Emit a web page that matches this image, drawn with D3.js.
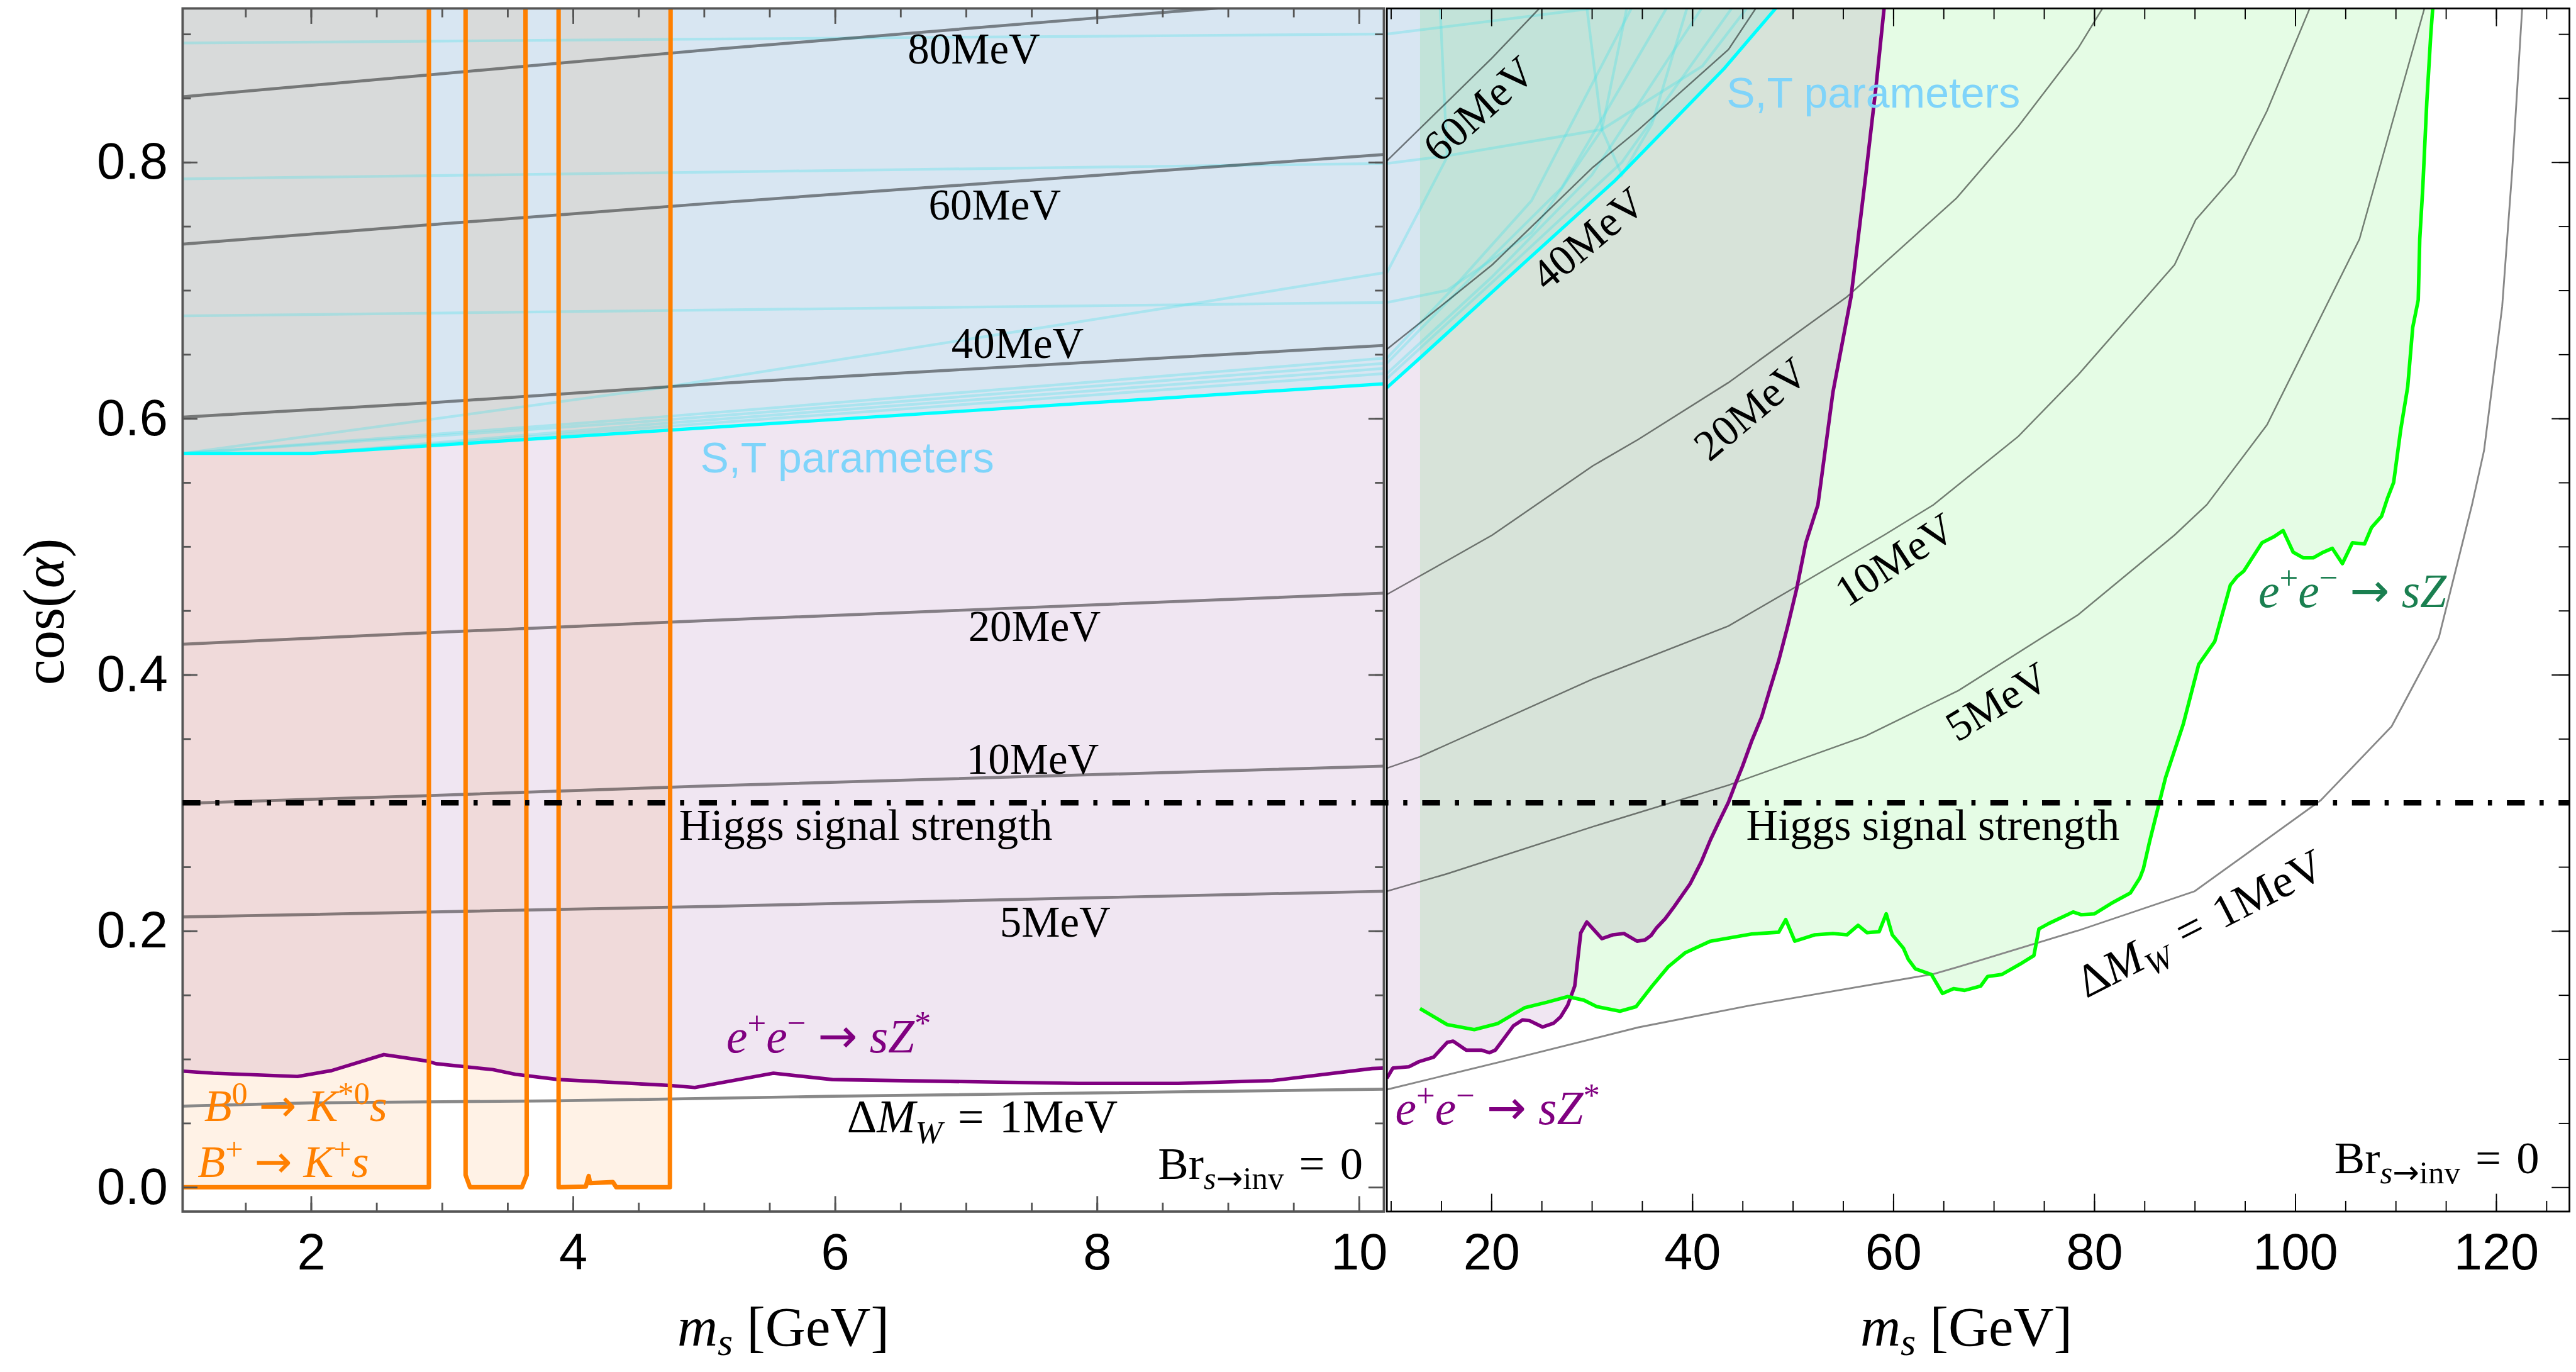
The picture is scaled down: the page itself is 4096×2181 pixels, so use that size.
<!DOCTYPE html>
<meta charset="utf-8">
<html>
<head>
<style>
  body { margin: 0; background: #fff; }
  svg { display: block; }
  .fill { mix-blend-mode: multiply; }
</style>
</head>
<body>
<div id="chart"></div>
<script src="https://cdn.jsdelivr.net/npm/d3@7/dist/d3.min.js"></script>
<script>
// ---------- data (m_s in GeV, cos(alpha)) ----------
const lowMassTicks = [2, 4, 6, 8, 10];
const highMassTicks = [20, 40, 60, 80, 100, 120];
const cosTicks = [0, 0.2, 0.4, 0.6, 0.8];
const higgsLimit = 0.3;

// left panel: Delta M_W contours
const dmw80Low = [[1.02, 0.851], [2.885, 0.868], [5.06, 0.888], [9.0, 0.921]];
const dmw60Low = [[1.02, 0.736], [2.885, 0.751], [5.06, 0.768], [10.19, 0.806]];
const dmw40Low = [[1.02, 0.601], [2.885, 0.612], [5.06, 0.627], [10.19, 0.657]];
const dmw20Low = [[1.02, 0.4238], [2.885, 0.4327], [5.06, 0.4424], [10.19, 0.4637]];
const dmw10Low = [[1.02, 0.2996], [2.885, 0.3056], [5.06, 0.3133], [10.19, 0.3286]];
const dmw5Low = [[1.02, 0.2109], [5.06, 0.2192], [10.19, 0.231]];
const dmw1Low = [[1.02, 0.0633], [2.0, 0.0658], [3.88, 0.0674], [5.98, 0.071], [10.19, 0.0765]];

// right panel: Delta M_W contours
const dmw60High = [[9.6, 0.801], [15.6, 0.847], [20.1, 0.8816], [24.9, 0.921]];
const dmw40High = [[9.6, 0.654], [15.6, 0.6915], [20.1, 0.72], [30.1, 0.796], [34.6, 0.825], [43.6, 0.888], [46.4, 0.921]];
const dmw20High = [[9.6, 0.4626], [15.6, 0.489], [20.1, 0.509], [30.1, 0.563], [34.6, 0.5835], [43.6, 0.628],
  [55.4, 0.695], [66.3, 0.772], [72.45, 0.828], [78.4, 0.889], [80.9, 0.921]];
const dmw10High = [[9.6, 0.327], [12.9, 0.336], [30.1, 0.3966], [43.6, 0.438], [50.4, 0.469], [59.1, 0.509],
  [64.0, 0.5326], [72.45, 0.586], [78.4, 0.634], [88.0, 0.72], [90.1, 0.755], [94.0, 0.79], [97.2, 0.84], [101.5, 0.921]];
const dmw5High = [[9.6, 0.231], [15.6, 0.2446], [30.1, 0.2814], [43.6, 0.3138], [57.2, 0.352], [66.5, 0.3877],
  [78.4, 0.4468], [88.0, 0.509], [91.2, 0.5326], [97.2, 0.595], [106.4, 0.74], [112.9, 0.921]];
const dmw1High = [[9.6, 0.0762], [21.0, 0.098], [34.6, 0.1247], [45.5, 0.1415], [64.0, 0.1664], [66.5, 0.172],
  [78.6, 0.2008], [90.0, 0.231], [102.55, 0.302], [109.6, 0.3597], [114.3, 0.429], [117.6, 0.5326],
  [118.8, 0.575], [120.6, 0.687], [121.6, 0.7935], [122.6, 0.921]];

// e+e- -> sZ*
const eeSZstarLow = [[1.02, 0.0906], [1.255, 0.089], [1.897, 0.0864], [2.157, 0.091], [2.556, 0.1035], [2.885, 0.0985],
  [2.954, 0.0964], [3.387, 0.0918], [3.56, 0.0881], [3.89, 0.084], [4.34, 0.0816], [4.74, 0.0794], [4.93, 0.0778],
  [5.53, 0.089], [5.98, 0.084], [7.86, 0.081], [8.62, 0.081], [9.34, 0.0832], [10.1, 0.0926], [10.19, 0.093]];
const eeSZstarHigh = [[9.6, 0.085], [10.2, 0.093], [11.8, 0.094], [12.8, 0.098], [14.26, 0.1015], [15.6, 0.113],
  [16.2, 0.114], [17.5, 0.107], [19.0, 0.107], [19.8, 0.105], [20.4, 0.107], [22.2, 0.126], [23.1, 0.1305],
  [23.8, 0.13], [25.1, 0.125], [26.2, 0.128], [26.9, 0.133], [27.6, 0.142], [28.3, 0.157], [28.9, 0.1985],
  [29.5, 0.207], [31.0, 0.194], [32.1, 0.197], [33.2, 0.198], [34.5, 0.192], [35.3, 0.193], [35.9, 0.1965],
  [36.4, 0.202], [37.3, 0.2095], [38.2, 0.219], [39.8, 0.237], [40.9, 0.254], [41.8, 0.271], [42.7, 0.286],
  [43.6, 0.3005], [44.3, 0.315], [45.0, 0.3286], [45.9, 0.348], [46.9, 0.367], [47.7, 0.388], [48.6, 0.411],
  [49.5, 0.438], [50.4, 0.4675], [51.3, 0.503], [52.5, 0.5325], [54.0, 0.6206], [55.8, 0.695], [57.2, 0.7856],
  [58.3, 0.86], [59.1, 0.921]];

// e+e- -> sZ
const eeSZ = [[12.9, 0.1394], [15.6, 0.1269], [18.3, 0.123], [20.6, 0.1276], [23.3, 0.14], [25.55, 0.1444],
  [27.6, 0.1488], [29.2, 0.146], [30.5, 0.1409], [32.8, 0.1373], [34.4, 0.1409], [36.0, 0.157], [37.6, 0.172],
  [39.3, 0.183], [41.8, 0.192], [45.9, 0.1976], [48.6, 0.199], [49.3, 0.2089], [50.2, 0.192], [52.2, 0.197],
  [54.0, 0.198], [55.4, 0.197], [56.5, 0.2044], [57.4, 0.1986], [58.6, 0.1995], [59.3, 0.2134], [59.9, 0.197],
  [61.0, 0.1867], [61.5, 0.1778], [62.2, 0.1704], [63.8, 0.166], [64.9, 0.1512], [66.0, 0.155], [67.1, 0.1536],
  [68.7, 0.157], [69.4, 0.1645], [70.8, 0.166], [72.6, 0.174], [74.0, 0.1808], [74.5, 0.2016], [75.5, 0.2059],
  [77.9, 0.2148], [78.7, 0.2127], [80.0, 0.2133], [81.7, 0.2215], [83.6, 0.2296], [84.55, 0.2414], [84.9, 0.2487],
  [85.5, 0.2694], [87.1, 0.3197], [88.85, 0.361], [90.4, 0.408], [92.0, 0.426], [93.55, 0.47], [94.2, 0.4764],
  [94.9, 0.481], [96.7, 0.503], [97.85, 0.5075], [98.8, 0.5125], [99.8, 0.4956], [100.8, 0.4912], [101.8, 0.4912],
  [102.8, 0.4956], [103.7, 0.4986], [104.7, 0.4867], [105.7, 0.503], [106.9, 0.502], [107.6, 0.5148],
  [108.6, 0.5237], [109.2, 0.538], [109.8, 0.55], [110.5, 0.591], [111.2, 0.6246], [111.7, 0.671],
  [112.25, 0.6925], [112.4, 0.74], [112.7, 0.78], [113.1, 0.8467], [113.5, 0.9], [113.7, 0.921]];

// S,T parameters boundary (thick) and the faint sub-contours
const stLow = [[1.02, 0.5727], [2.0, 0.5727], [5.06, 0.593], [10.19, 0.627]];
const stHigh = [[9.6, 0.624], [12.9, 0.6472], [23.3, 0.7217], [32.3, 0.7856], [43.2, 0.8733], [48.4, 0.921]];
const stFaintLow = [
  [[1.02, 0.893], [10.19, 0.9]],
  [[1.02, 0.787], [10.19, 0.799]],
  [[1.02, 0.68], [10.19, 0.6905]],
  [[1.02, 0.5727], [4.61, 0.623], [8.58, 0.687], [10.19, 0.7137]],
  [[1.02, 0.5727], [4.61, 0.6007], [10.19, 0.647]],
  [[1.02, 0.5727], [4.61, 0.598], [10.19, 0.643]],
  [[2.0, 0.5727], [4.61, 0.5955], [10.19, 0.639]],
  [[2.0, 0.5727], [4.61, 0.593], [10.19, 0.635]]
];
const stFaintHigh = [
  [[9.6, 0.9], [31.0, 0.921]],
  [[9.6, 0.799], [15.6, 0.805], [31.0, 0.8255], [41.0, 0.875], [45.5, 0.921]],
  [[9.6, 0.6905], [15.6, 0.7], [24.0, 0.745], [31.0, 0.8255], [33.5, 0.921]],
  [[9.6, 0.7137], [15.6, 0.804], [14.9, 0.921]],
  [[29.5, 0.921], [31.0, 0.8255], [33.0, 0.79], [36.0, 0.83], [39.5, 0.921]],
  [[9.6, 0.631], [22.0, 0.72], [33.0, 0.8], [44.0, 0.921]],
  [[9.6, 0.635], [20.0, 0.71], [30.0, 0.79], [41.0, 0.921]],
  [[9.6, 0.643], [18.0, 0.71], [27.0, 0.78], [37.5, 0.921]],
  [[9.6, 0.647], [16.0, 0.7], [24.0, 0.77], [34.0, 0.921]]
];

// B -> K s exclusion windows (orange)
const bMeson1 = [[0.9, 0.0], [2.9, 0.0], [2.9, 0.95]];
const bMeson2 = [[3.18, 0.95], [3.18, 0.0095], [3.214, 0.0], [3.61, 0.0], [3.647, 0.0095], [3.637, 0.95]];
const bMeson3 = [[3.89, 0.95], [3.89, 0.0], [4.098, 0.0005], [4.12, 0.0088], [4.13, 0.0032], [4.305, 0.004],
  [4.33, 0.0], [4.74, 0.0], [4.745, 0.95]];

// contour labels [text, m, cos(, angle)]
const lowLabels = [["80MeV", 7.06, 0.877], ["60MeV", 7.22, 0.7551], ["40MeV", 7.394, 0.6472],
  ["20MeV", 7.523, 0.4261], ["10MeV", 7.509, 0.3227], ["5MeV", 7.681, 0.1956]];
const highLabels = [["60MeV", 18.78, 0.8414, -42], ["40MeV", 29.64, 0.7403, -40], ["20MeV", 45.83, 0.6073, -40],
  ["10MeV", 60.17, 0.4897, -33], ["5MeV", 70.35, 0.3788, -31]];

// ---------- layout ----------
var W = 4339, H = 2310;
var SERIF = "'Liberation Serif', 'Times New Roman', serif";
var SANS = "'Liberation Sans', Arial, sans-serif";
var yTop = 14, yBot = 2040;
var leftBox = { x0: 307.6, x1: 2331 }, rightBox = { x0: 2336, x1: 4328 };

var y = d3.scaleLinear().domain([-0.019, 0.92]).range([yBot, yTop]);
var xL = d3.scaleLinear().domain([1.02, 10.19]).range([leftBox.x0, leftBox.x1]);
var xR = d3.scaleLinear().domain([9.6, 127.3]).range([rightBox.x0, rightBox.x1]);

var svg = d3.select("#chart").append("svg")
  .attr("width", 4096).attr("height", 2181)
  .attr("viewBox", "0 0 " + W + " " + H);
svg.append("rect").attr("width", W).attr("height", H).attr("fill", "#fff");

var defs = svg.append("defs");
[["clipL", leftBox], ["clipR", rightBox]].forEach(function (c) {
  defs.append("clipPath").attr("id", c[0]).append("rect")
    .attr("x", c[1].x0).attr("y", yTop).attr("width", c[1].x1 - c[1].x0).attr("height", yBot - yTop);
});

function lineFor(x) {
  return d3.line().x(function (d) { return x(d[0]); }).y(function (d) { return y(d[1]); });
}
var lineL = lineFor(xL), lineR = lineFor(xR);

// polygon = curve + closing points far above the frame
function above(curve, xStart) {
  var pts = curve.slice();
  pts.push([pts[pts.length - 1][0], 1.0]);
  pts.push([xStart, 1.0]);
  pts.push([xStart, curve[0][1]]);
  return pts;
}

var ORANGE_FILL = "#fff2e6", PURPLE_FILL = "#f0e6f2", ST_FILL = "#e6ffff", GREEN_FILL = "#e5fce5";

// ---------- left panel ----------
var gL = svg.append("g").attr("clip-path", "url(#clipL)");
gL.append("rect").attr("x", leftBox.x0).attr("y", yTop)
  .attr("width", leftBox.x1 - leftBox.x0).attr("height", yBot - yTop).attr("fill", "#fff");

[bMeson1, bMeson2, bMeson3].forEach(function (b, i) {
  var pts = b.slice();
  if (i === 0) pts = [[0.9, 0.95]].concat(pts);
  gL.append("path").attr("class", "fill").attr("d", lineL(pts) + "Z").attr("fill", ORANGE_FILL);
});
gL.append("path").attr("class", "fill")
  .attr("d", lineL(above(eeSZstarLow, 0.9)) + "Z").attr("fill", PURPLE_FILL);
gL.append("path").attr("class", "fill")
  .attr("d", lineL(above(stLow, 0.9)) + "Z").attr("fill", ST_FILL);

stFaintLow.forEach(function (c) {
  gL.append("path").attr("d", lineL(c)).attr("fill", "none")
    .attr("stroke", "#40e0e8").attr("stroke-opacity", 0.3).attr("stroke-width", 4.5);
});
[dmw80Low, dmw60Low, dmw40Low, dmw20Low, dmw10Low, dmw5Low].forEach(function (c) {
  gL.append("path").attr("d", lineL(c)).attr("fill", "none")
    .attr("stroke", "#000").attr("stroke-opacity", 0.45).attr("stroke-width", 5);
});
gL.append("path").attr("d", lineL(dmw1Low)).attr("fill", "none")
  .attr("stroke", "#888").attr("stroke-width", 5);
gL.append("path").attr("d", lineL(stLow)).attr("fill", "none")
  .attr("stroke", "#00ffff").attr("stroke-width", 5.5);
gL.append("path").attr("d", lineL(eeSZstarLow)).attr("fill", "none")
  .attr("stroke", "#800080").attr("stroke-width", 6).attr("stroke-linejoin", "round");
[bMeson1, bMeson2, bMeson3].forEach(function (b) {
  gL.append("path").attr("d", lineL(b)).attr("fill", "none")
    .attr("stroke", "#ff8000").attr("stroke-width", 7.5).attr("stroke-linejoin", "round");
});

// ---------- right panel ----------
var gR = svg.append("g").attr("clip-path", "url(#clipR)");
gR.append("rect").attr("x", rightBox.x0).attr("y", yTop)
  .attr("width", rightBox.x1 - rightBox.x0).attr("height", yBot - yTop).attr("fill", "#fff");

gR.append("path").attr("class", "fill")
  .attr("d", lineR(above(eeSZstarHigh, 9.0)) + "Z").attr("fill", PURPLE_FILL);
gR.append("path").attr("class", "fill")
  .attr("d", lineR(above(eeSZ, eeSZ[0][0])) + "Z").attr("fill", GREEN_FILL);
gR.append("path").attr("class", "fill")
  .attr("d", lineR(above(stHigh, 9.0)) + "Z").attr("fill", ST_FILL);

stFaintHigh.forEach(function (c) {
  gR.append("path").attr("d", lineR(c)).attr("fill", "none")
    .attr("stroke", "#40e0e8").attr("stroke-opacity", 0.3).attr("stroke-width", 4.5);
});
[dmw60High, dmw40High, dmw20High, dmw10High, dmw5High].forEach(function (c) {
  gR.append("path").attr("d", lineR(c)).attr("fill", "none")
    .attr("stroke", "#000").attr("stroke-opacity", 0.5).attr("stroke-width", 2.6);
});
gR.append("path").attr("d", lineR(dmw1High)).attr("fill", "none")
  .attr("stroke", "#888").attr("stroke-width", 3);
gR.append("path").attr("d", lineR(stHigh)).attr("fill", "none")
  .attr("stroke", "#00ffff").attr("stroke-width", 5.5);
gR.append("path").attr("d", lineR(eeSZstarHigh)).attr("fill", "none")
  .attr("stroke", "#800080").attr("stroke-width", 6).attr("stroke-linejoin", "round");
gR.append("path").attr("d", lineR(eeSZ)).attr("fill", "none")
  .attr("stroke", "#00ff00").attr("stroke-width", 6).attr("stroke-linejoin", "round");

// ---------- frames and ticks ----------
function styleAxis(g, color, width, fontSize) {
  g.select(".domain").remove();
  g.selectAll(".tick line").attr("stroke", color).attr("stroke-width", width);
  g.attr("font-family", SANS).attr("font-size", fontSize);
  g.selectAll(".tick text").attr("fill", "#000");
}

function panelAxes(x, box, majors, minors, color, width, maj, min) {
  var b = svg.append("g").attr("transform", "translate(0," + yBot + ")")
    .call(d3.axisBottom(x).tickValues(majors).tickSize(-maj).tickPadding(36));
  styleAxis(b, color, width, 86);
  var bm = svg.append("g").attr("transform", "translate(0," + yBot + ")")
    .call(d3.axisBottom(x).tickValues(minors).tickSize(-min).tickFormat(""));
  styleAxis(bm, color, width, 86);
  var t = svg.append("g").attr("transform", "translate(0," + yTop + ")")
    .call(d3.axisTop(x).tickValues(majors).tickSize(-maj).tickFormat(""));
  styleAxis(t, color, width, 86);
  var tm = svg.append("g").attr("transform", "translate(0," + yTop + ")")
    .call(d3.axisTop(x).tickValues(minors).tickSize(-min).tickFormat(""));
  styleAxis(tm, color, width, 86);
  var r = svg.append("g").attr("transform", "translate(" + box.x1 + ",0)")
    .call(d3.axisRight(y).tickValues(cosTicks).tickSize(-maj).tickFormat(""));
  styleAxis(r, color, width, 86);
  var rm = svg.append("g").attr("transform", "translate(" + box.x1 + ",0)")
    .call(d3.axisRight(y).tickValues(d3.range(0.05, 0.901, 0.05)).tickSize(-min).tickFormat(""));
  styleAxis(rm, color, width, 86);
  svg.append("rect").attr("x", box.x0).attr("y", yTop)
    .attr("width", box.x1 - box.x0).attr("height", yBot - yTop)
    .attr("fill", "none").attr("stroke", color).attr("stroke-width", width + 1);
}

panelAxes(xL, leftBox, lowMassTicks, d3.range(1.5, 10.01, 0.5), "#555", 3, 26, 15);
panelAxes(xR, rightBox, highMassTicks, d3.range(10, 125.1, 5), "#000", 2, 30, 18);

var ly = svg.append("g").attr("transform", "translate(" + leftBox.x0 + ",0)")
  .call(d3.axisLeft(y).tickValues(cosTicks).tickSize(-25).tickPadding(25).tickFormat(d3.format(".1f")));
styleAxis(ly, "#555", 3, 86);
var lym = svg.append("g").attr("transform", "translate(" + leftBox.x0 + ",0)")
  .call(d3.axisLeft(y).tickValues(d3.range(0.05, 0.901, 0.05)).tickSize(-14).tickFormat(""));
styleAxis(lym, "#555", 3, 86);

// Higgs signal strength line across both panels
svg.append("line")
  .attr("x1", xL(1.02)).attr("x2", xR(127.3))
  .attr("y1", y(higgsLimit)).attr("y2", y(higgsLimit))
  .attr("stroke", "#000").attr("stroke-width", 9)
  .attr("stroke-dasharray", "30,25,7,25");

// ---------- text ----------
// parts: [text, "flags"] with flags among i (italic), sup, sub, arr (arrow glyph)
function rich(parent, parts, size, opts) {
  opts = opts || {};
  var subShift = opts.subShift || 0.22;
  var t = parent.append("text")
    .attr("x", opts.x || 0).attr("y", opts.y || 0)
    .attr("font-family", opts.family || SERIF)
    .attr("font-size", size)
    .attr("fill", opts.color || "#000")
    .attr("text-anchor", opts.anchor || "start");
  var shift = 0;
  parts.forEach(function (p) {
    var flags = (p[1] || "").split(" ");
    var target = 0, fs = size;
    if (flags.indexOf("sup") >= 0) { target = -0.38 * size; fs = 0.7 * size; }
    else if (flags.indexOf("sub") >= 0) { target = subShift * size; fs = 0.7 * size; }
    var ts = t.append("tspan").attr("font-size", fs).text(p[0]);
    if (flags.indexOf("i") >= 0) ts.attr("font-style", "italic");
    if (flags.indexOf("arr") >= 0) ts.attr("font-family", "'DejaVu Sans', sans-serif");
    if (target !== shift) ts.attr("dy", target - shift);
    shift = target;
  });
  return t;
}

var SP = "\u2004";

lowLabels.forEach(function (l) {
  svg.append("text").attr("x", xL(l[1])).attr("y", y(l[2]))
    .attr("text-anchor", "middle").attr("font-family", SERIF).attr("font-size", 73).text(l[0]);
});
highLabels.forEach(function (l) {
  svg.append("text")
    .attr("transform", "translate(" + xR(l[1]) + "," + y(l[2]) + ") rotate(" + l[3] + ")")
    .attr("y", 0.33 * 73)
    .attr("text-anchor", "middle").attr("font-family", SERIF).attr("font-size", 73).text(l[0]);
});

var dmwParts = [["\u0394"], ["M", "i"], ["W", "sub i"], [SP + "=" + SP + "1MeV"]];
rich(svg, dmwParts, 78, { x: xL(6.092), y: y(0.0426) });
var gd = svg.append("g").attr("transform", "translate(" + xR(90.54) + "," + y(0.2059) + ") rotate(-27)");
rich(gd, dmwParts, 78, { anchor: "middle", y: 0.33 * 78 });

var brParts = [["Br"], ["s", "sub i"], ["\u2192", "sub arr"], ["inv", "sub"], [SP + "=" + SP + "0"]];
rich(svg, brParts, 77, { x: xL(10.03), y: y(0.0065), anchor: "end" });
rich(svg, brParts, 77, { x: xR(124.3), y: y(0.0111), anchor: "end" });

var higgsParts = [["Higgs signal strength"]];
rich(svg, higgsParts, 74, { x: xL(4.81), y: y(0.2709) });
rich(svg, higgsParts, 74, { x: xR(45.36), y: y(0.2709) });

svg.append("text").attr("x", xL(4.972)).attr("y", y(0.558))
  .attr("font-family", SANS).attr("font-size", 72).attr("fill", "#7fd4fa").text("S,T parameters");
svg.append("text").attr("x", xR(43.4)).attr("y", y(0.8427))
  .attr("font-family", SANS).attr("font-size", 72).attr("fill", "#7fd4fa").text("S,T parameters");

var eeStar = [["e", "i"], ["+", "sup"], ["e", "i"], ["\u2212", "sup"], [" "], ["\u2192", "arr"], [" "], ["sZ", "i"], ["*", "sup"]];
var eeZ = [["e", "i"], ["+", "sup"], ["e", "i"], ["\u2212", "sup"], [" "], ["\u2192", "arr"], [" "], ["sZ", "i"]];
rich(svg, eeStar, 80, { x: xL(5.171), y: y(0.1054), color: "#800080" });
rich(svg, eeStar, 80, { x: xR(10.43), y: y(0.0491), color: "#800080" });
rich(svg, eeZ, 80, { x: xR(96.34), y: y(0.4528), color: "#1a7f50" });

rich(svg, [["B", "i"], ["0", "sup"], [" "], ["\u2192", "arr"], [" "], ["K", "i"], ["*0", "sup"], ["s", "i"]], 76,
  { x: xL(1.185), y: y(0.0517), color: "#ff8000" });
rich(svg, [["B", "i"], ["+", "sup"], [" "], ["\u2192", "arr"], [" "], ["K", "i"], ["+", "sup"], ["s", "i"]], 76,
  { x: xL(1.135), y: y(0.0079), color: "#ff8000" });

// axis titles
var xTitle = [["m", "i"], ["s", "sub i"], [" [GeV]"]];
rich(svg, xTitle, 94, { x: (leftBox.x0 + leftBox.x1) / 2, y: 2266, anchor: "middle", subShift: 0.17 });
rich(svg, xTitle, 94, { x: 3312, y: 2266, anchor: "middle", subShift: 0.17 });
var gy = svg.append("g").attr("transform", "translate(75,1030) rotate(-90)");
rich(gy, [["cos("], ["\u03b1", "i"], [")"]], 98, { anchor: "middle", y: 0.33 * 98 });
</script>
</body>
</html>
